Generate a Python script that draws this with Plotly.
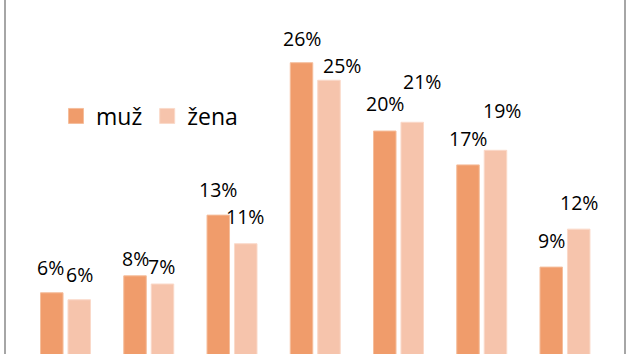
import plotly.graph_objects as go

# ---- data ----
categories = ["1", "2", "3", "4", "5", "6", "7"]
muz = [6.45, 7.9, 13.1, 26.15, 20.3, 17.4, 8.65]
zena = [5.85, 7.2, 10.65, 24.65, 21.05, 18.65, 11.9]
series_names = ["muž", "žena"]

# ---- style ----
col_muz = "#F09C6B"
col_zena = "#F6C4AC"
line_muz = "#F5BE9C"
line_zena = "#FAD9C9"
font_family = "Open Sans, DejaVu Sans, sans-serif"

# label offsets in px relative to bar top centre (dx, dy)
off_muz = [(-1, 25), (0, 17), (0, 26), (0, 24), (0, 28), (0, 26), (0, 27)]
off_zena = [(0, 25), (-1, 18), (-1, 27), (13, 15), (10, 41), (7, 40), (0, 27)]

fig = go.Figure()
fig.add_trace(go.Bar(x=categories, y=muz, name=series_names[0], showlegend=False,
                     marker=dict(color=col_muz, line=dict(color=line_muz, width=1))))
fig.add_trace(go.Bar(x=categories, y=zena, name=series_names[1], showlegend=False,
                     marker=dict(color=col_zena, line=dict(color=line_zena, width=1))))
# legend entries (square swatches)
for nm, c, lc in ((series_names[0], col_muz, line_muz), (series_names[1], col_zena, line_zena)):
    fig.add_trace(go.Scatter(x=[None], y=[None], mode="markers", name=nm,
                             marker=dict(symbol="square", size=15, color=c,
                                         line=dict(color=lc, width=1))))

slot = (1 - 0.34) / 2
annotations = []
for i, (vm, vz) in enumerate(zip(muz, zena)):
    for v, side, off in ((vm, -1, off_muz[i]), (vz, 1, off_zena[i])):
        annotations.append(dict(
            x=i + side * slot / 2, y=v, xref="x", yref="y",
            text=f"{round(v):d}%", showarrow=False,
            xanchor="center", yanchor="middle",
            xshift=off[0], yshift=off[1],
            font=dict(family=font_family, size=19.5, color="#000000")))

shapes = [
    dict(type="line", xref="paper", yref="paper", x0=5/630, x1=5/630, y0=0, y1=1,
         line=dict(color="#A6A6A6", width=2)),
    dict(type="line", xref="paper", yref="paper", x0=625/630, x1=625/630, y0=0, y1=1,
         line=dict(color="#A6A6A6", width=2)),
]

fig.update_layout(
    width=630, height=354,
    margin=dict(l=0, r=0, t=0, b=0),
    paper_bgcolor="white", plot_bgcolor="white",
    barmode="group", bargap=0.34, bargroupgap=0.18,
    showlegend=True,
    legend=dict(orientation="h", x=56/630, xanchor="left", y=1 - 116/354, yanchor="middle",
                itemsizing="trace",
                font=dict(family=font_family, size=23, color="#000000"),
                bgcolor="rgba(0,0,0,0)", traceorder="normal"),
    xaxis=dict(range=[-0.787, 6.781], visible=False),
    yaxis=dict(range=[1.207, 31.52], visible=False),
    annotations=annotations,
    shapes=shapes,
    font=dict(family=font_family),
)

fig.write_html("out.html")
